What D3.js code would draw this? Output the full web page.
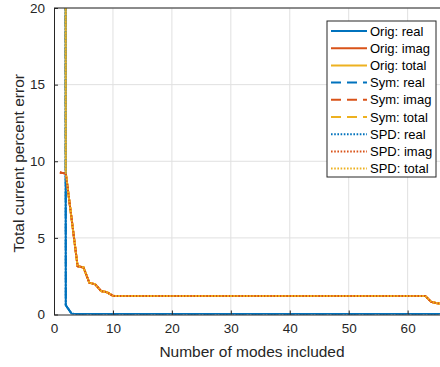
<!DOCTYPE html>
<html>
<head>
<meta charset="utf-8">
<script src="https://cdn.jsdelivr.net/npm/d3@7"></script>
<style>
  html, body { margin: 0; padding: 0; background: #fff; }
  svg { display: block; font-family: "Liberation Sans", Arial, Helvetica, sans-serif; }
</style>
</head>
<body>
<svg id="chart" width="440" height="367"></svg>
<script>
// Number of modes included in the expansion
const modes = d3.range(1, 67);

// Percent error of the total current, per component (the three methods agree)
const realErr = [
  600, 0.6, 0.05, 0.03, 0.03, 0.03, 0.03, 0.03, 0.03, 0.03,
  0.03, 0.03, 0.03, 0.03, 0.03, 0.03, 0.03, 0.03, 0.03, 0.03,
  0.03, 0.03, 0.03, 0.03, 0.03, 0.03, 0.03, 0.03, 0.03, 0.03,
  0.03, 0.03, 0.03, 0.03, 0.03, 0.03, 0.03, 0.03, 0.03, 0.03,
  0.03, 0.03, 0.03, 0.03, 0.03, 0.03, 0.03, 0.03, 0.03, 0.03,
  0.03, 0.03, 0.03, 0.03, 0.03, 0.03, 0.03, 0.03, 0.03, 0.03,
  0.03, 0.03, 0.03, 0.03, 0.03, 0.03
];
const imagErr = [
  9.26, 9.2, 6.2, 3.15, 3.07, 2.07, 1.97, 1.53, 1.45, 1.22,
  1.2, 1.2, 1.2, 1.2, 1.2, 1.2, 1.2, 1.2, 1.2, 1.2,
  1.2, 1.2, 1.2, 1.2, 1.2, 1.2, 1.2, 1.2, 1.2, 1.2,
  1.2, 1.2, 1.2, 1.2, 1.2, 1.2, 1.2, 1.2, 1.2, 1.2,
  1.2, 1.2, 1.2, 1.2, 1.2, 1.2, 1.2, 1.2, 1.2, 1.2,
  1.2, 1.2, 1.2, 1.2, 1.2, 1.2, 1.2, 1.2, 1.2, 1.2,
  1.2, 1.2, 1.2, 0.82, 0.74, 0.68
];
const totalErr = [
  600, 9.22, 6.2, 3.15, 3.07, 2.07, 1.97, 1.53, 1.45, 1.22,
  1.2, 1.2, 1.2, 1.2, 1.2, 1.2, 1.2, 1.2, 1.2, 1.2,
  1.2, 1.2, 1.2, 1.2, 1.2, 1.2, 1.2, 1.2, 1.2, 1.2,
  1.2, 1.2, 1.2, 1.2, 1.2, 1.2, 1.2, 1.2, 1.2, 1.2,
  1.2, 1.2, 1.2, 1.2, 1.2, 1.2, 1.2, 1.2, 1.2, 1.2,
  1.2, 1.2, 1.2, 1.2, 1.2, 1.2, 1.2, 1.2, 1.2, 1.2,
  1.2, 1.2, 1.2, 0.82, 0.74, 0.68
];

const methods = ["Orig", "Sym", "SPD"];
const components = ["real", "imag", "total"];
const componentValues = { real: realErr, imag: imagErr, total: totalErr };
const componentColors = { real: "#0072BD", imag: "#D95319", total: "#EDB120" };
const methodDash = { Orig: null, Sym: "10,6", SPD: "1.6,1.6" };

const xTicks = [0, 10, 20, 30, 40, 50, 60];
const yTicks = [0, 5, 10, 15, 20];

const svg = d3.select("#chart");
const margin = { left: 54, top: 8, right: -3, bottom: 52.5 };
const W = 440, H = 367;

const x = d3.scaleLinear().domain([0, 66]).range([margin.left, W - margin.right]);
const y = d3.scaleLinear().domain([0, 20]).range([H - margin.bottom, margin.top]);

const axisColor = "#262626";
const gridColor = "#e0e0e0";

// grid
const grid = svg.append("g");
grid.selectAll("line.gx").data(xTicks.slice(1)).join("line")
  .attr("x1", d => x(d)).attr("x2", d => x(d))
  .attr("y1", y(0)).attr("y2", y(20))
  .attr("stroke", gridColor).attr("stroke-width", 1);
grid.selectAll("line.gy").data(yTicks.slice(1)).join("line")
  .attr("x1", x(0)).attr("x2", x(66))
  .attr("y1", d => y(d)).attr("y2", d => y(d))
  .attr("stroke", gridColor).attr("stroke-width", 1);

// data lines, clipped to the plot box
svg.append("clipPath").attr("id", "plotclip").append("rect")
  .attr("x", x(0)).attr("y", y(20))
  .attr("width", x(66) - x(0)).attr("height", y(0) - y(20));

const line = d3.line().x(d => x(d[0])).y(d => y(d[1]));
const series = [];
methods.forEach(m => components.forEach(c => series.push({ method: m, comp: c })));

const plot = svg.append("g").attr("clip-path", "url(#plotclip)");
plot.selectAll("path").data(series).join("path")
  .attr("d", s => line(modes.map((n, i) => [n, componentValues[s.comp][i]])))
  .attr("fill", "none")
  .attr("stroke", s => componentColors[s.comp])
  .attr("stroke-width", 2)
  .attr("stroke-dasharray", s => methodDash[s.method]);

// axes
const xAxis = d3.axisBottom(x).tickValues(xTicks).tickSizeInner(-4).tickSizeOuter(0).tickPadding(9);
const yAxis = d3.axisLeft(y).tickValues(yTicks).tickSizeInner(-4).tickSizeOuter(0).tickPadding(9);

const gx = svg.append("g").attr("transform", `translate(0,${y(0)})`).call(xAxis);
const gy = svg.append("g").attr("transform", `translate(${x(0)},0)`).call(yAxis);
[gx, gy].forEach(g => {
  g.select(".domain").attr("stroke", axisColor).attr("stroke-width", 1);
  g.selectAll(".tick line").attr("stroke", axisColor);
  g.selectAll(".tick text").attr("fill", axisColor).attr("font-size", 13.5)
    .attr("font-family", "Liberation Sans, Arial, sans-serif");
});
// top border of the box
svg.append("line").attr("x1", x(0)).attr("x2", x(66)).attr("y1", y(20)).attr("y2", y(20))
  .attr("stroke", axisColor).attr("stroke-width", 1);

// axis titles
svg.append("text").attr("x", 252).attr("y", 357)
  .attr("text-anchor", "middle").attr("font-size", 15.5).attr("fill", axisColor)
  .text("Number of modes included");
svg.append("text").attr("transform", `translate(24,${(y(0) + y(20)) / 2 + 2}) rotate(-90)`)
  .attr("text-anchor", "middle").attr("font-size", 15.5).attr("fill", axisColor)
  .text("Total current percent error");

// legend
const lg = svg.append("g").attr("transform", "translate(327,21)");
lg.append("rect").attr("x", 0).attr("y", 0).attr("width", 109).attr("height", 156)
  .attr("fill", "#fff").attr("stroke", axisColor).attr("stroke-width", 1);
const rows = lg.selectAll("g.row").data(series).join("g")
  .attr("transform", (s, i) => `translate(0,${10 + i * 17.2})`);
rows.append("line").attr("x1", 4).attr("x2", 40).attr("y1", 0).attr("y2", 0)
  .attr("stroke", s => componentColors[s.comp]).attr("stroke-width", 2)
  .attr("stroke-dasharray", s => methodDash[s.method]);
rows.append("text").attr("x", 43).attr("y", 0).attr("dy", "0.35em")
  .attr("font-size", 13).attr("fill", "#000")
  .text(s => `${s.method}: ${s.comp}`);
</script>
</body>
</html>
